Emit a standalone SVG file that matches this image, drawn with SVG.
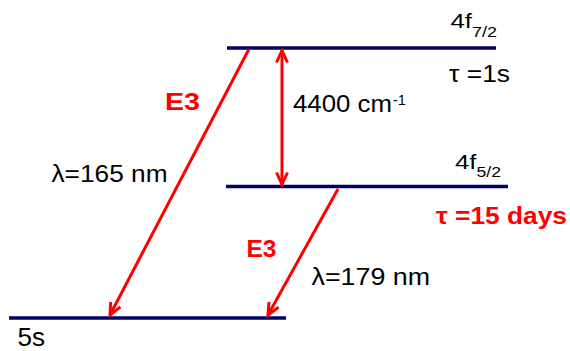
<svg xmlns="http://www.w3.org/2000/svg" width="570" height="351" viewBox="0 0 570 351">
<defs>
<style>
.lvl{stroke:#000066;stroke-width:3.5;fill:none}
.tr{stroke:#ff0000;stroke-width:3;fill:none}
.t{font-family:"Liberation Sans",Arial,sans-serif;fill:#000}
.r{font-family:"Liberation Sans",Arial,sans-serif;fill:#ff0000;font-weight:bold}
</style>
<marker id="ah" markerUnits="userSpaceOnUse" markerWidth="30" markerHeight="30" viewBox="-20 -10 30 20" refX="0" refY="0" orient="auto-start-reverse">
<path d="M-12,-5.5 L0,0 L-12,5.5" stroke="#ff0000" stroke-width="3" fill="none"/>
</marker>
</defs>
<rect width="570" height="351" fill="#fff"/>
<g id="level-4f72">
<line class="lvl" x1="227" y1="48" x2="496" y2="48"/>
<text class="t" x="450.5" y="28.3" font-size="21" textLength="21.5" lengthAdjust="spacingAndGlyphs">4f</text>
<text class="t" x="472" y="36.7" font-size="15" textLength="25" lengthAdjust="spacingAndGlyphs">7/2</text>
<text class="t" x="449" y="81.5" font-size="24" textLength="61" lengthAdjust="spacingAndGlyphs">τ =1s</text>
</g>
<g id="level-4f52">
<line class="lvl" x1="226" y1="186.5" x2="508" y2="186.5"/>
<text class="t" x="455" y="169" font-size="21" textLength="21.5" lengthAdjust="spacingAndGlyphs">4f</text>
<text class="t" x="476.5" y="176.7" font-size="15" textLength="24.5" lengthAdjust="spacingAndGlyphs">5/2</text>
<text class="r" x="436" y="224" font-size="23" textLength="131" lengthAdjust="spacingAndGlyphs">τ =15 days</text>
</g>
<g id="level-5s">
<line class="lvl" x1="9" y1="318" x2="286" y2="318"/>
<text class="t" x="17.5" y="346" font-size="25" textLength="27.5" lengthAdjust="spacingAndGlyphs">5s</text>
</g>
<g id="connectors">
<line class="tr" x1="249" y1="49" x2="110" y2="315" marker-end="url(#ah)"/>
<line class="tr" x1="338" y1="189" x2="268" y2="315" marker-end="url(#ah)"/>
<line class="tr" x1="282" y1="50.5" x2="282" y2="184.5" marker-start="url(#ah)" marker-end="url(#ah)"/>
<text class="t" x="293" y="111.5" font-size="24" textLength="99" lengthAdjust="spacingAndGlyphs">4400 cm</text>
<text class="t" x="393" y="105" font-size="14" textLength="13" lengthAdjust="spacingAndGlyphs">-1</text>
<text class="r" x="165" y="110" font-size="23" textLength="35" lengthAdjust="spacingAndGlyphs">E3</text>
<text class="t" x="51.5" y="181.5" font-size="24" textLength="116" lengthAdjust="spacingAndGlyphs">λ=165 nm</text>
<text class="r" x="246.5" y="256.5" font-size="23" textLength="30" lengthAdjust="spacingAndGlyphs">E3</text>
<text class="t" x="311.5" y="285" font-size="24" textLength="118.5" lengthAdjust="spacingAndGlyphs">λ=179 nm</text>
</g>
</svg>
